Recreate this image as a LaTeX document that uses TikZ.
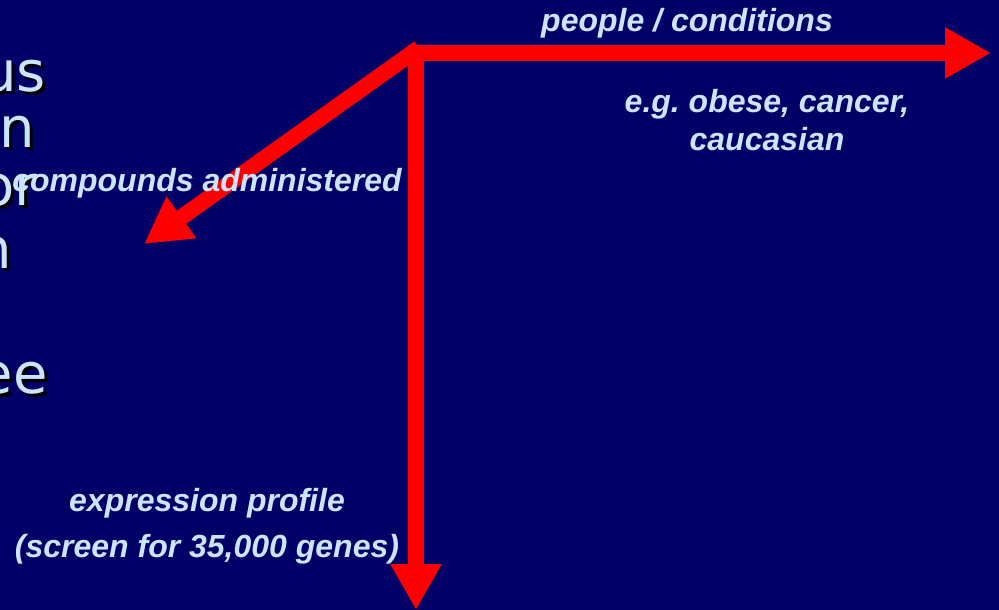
\documentclass[tikz,border=0pt]{standalone}
\usepackage{fontspec}
\setmainfont{Liberation Sans}
\newfontfamily\bigfont{DejaVu Sans}
\usetikzlibrary{arrows.meta}
\definecolor{bgnavy}{RGB}{0,0,102}
\definecolor{lbl}{RGB}{204,229,255}
\definecolor{arr}{RGB}{255,0,0}
\frenchspacing
\tikzset{
  lab/.style={inner sep=0pt, anchor=base, text=lbl, font=\fontsize{32}{36}\selectfont\bfseries\itshape},
  bigtxt/.style={inner sep=0pt, anchor=base east, text=lbl, font=\bigfont\fontsize{56}{60}\selectfont},
  bigshadow/.style={inner sep=0pt, anchor=base east, text=black, font=\bigfont\fontsize{56}{60}\selectfont},
  blockarrow/.style={draw=arr, line width=16pt, -{Triangle[width=48pt,length=46pt]}}
}
\begin{document}
\begin{tikzpicture}[x=1pt,y=-1pt]
\fill[bgnavy] (0,0) rectangle (999,610);
\useasboundingbox (0,0) rectangle (999,610);
\clip (0,0) rectangle (999,610);
% clipped big text on the left
\foreach \t/\xx/\yy/\nm in {us/46/92/a, n/35/147/b, or/38/205/c, n/12/268/d, ee/48/393/e}{
  \node[bigshadow] (s\nm) at (\xx+3,\yy+3) {\t};
  \node[bigtxt] (t\nm) at (\xx,\yy) {\t};
}
% arrows
\coordinate (corner) at (416,53);
\coordinate (hstart) at (408,53);
\coordinate (hend) at (991,53);
\coordinate (vstart) at (416,45);
\coordinate (vend) at (416,610);
\coordinate (dstart) at (419,48);
\coordinate (dend) at (144,244);
\draw[blockarrow] (dstart) -- (dend);
\draw[blockarrow] (vstart) -- (vend);
\draw[blockarrow] (hstart) -- (hend);
% labels
\node[lab] (people) at (687,32) {people / conditions};
\node[lab] (eg) at (767,113) {e.g. obese, cancer,};
\node[lab] (cauc) at (767,150) {caucasian};
\node[lab] (comp) at (207,191) {compounds administered};
\node[lab] (expr) at (207,511) {expression profile};
\node[lab] (screen) at (207,557) {(screen for 35,000 genes)};
\end{tikzpicture}
\end{document}
